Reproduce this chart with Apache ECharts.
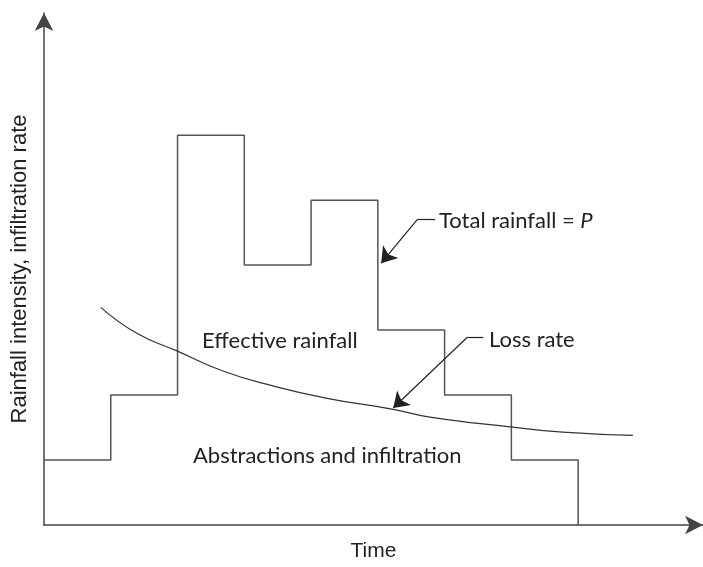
<!DOCTYPE html>
<html>
<head>
<meta charset="utf-8">
<script src="https://cdn.jsdelivr.net/npm/echarts@6/dist/echarts.min.js"></script>
<style>
  html, body { margin: 0; padding: 0; background: #fff; }
  #chart { width: 703px; height: 567px; }
</style>
</head>
<body>
<div id="chart"></div>
<script>
// hyetograph: rainfall intensity per time block (last 0 closes the step to the axis)
var stepTimes = [0, 1, 2, 3, 4, 5, 6, 7, 8];
var rainfall = [1, 2, 6, 4, 5, 3, 2, 1, 0];

// loss rate curve
var lossTimes = [0.85, 1.39, 1.99, 2.68, 3.43, 4.24, 5.23, 5.78, 6.98, 7.77, 8.82];
var lossRate = [3.35, 2.95, 2.68, 2.37, 2.14, 1.95, 1.78, 1.66, 1.51, 1.43, 1.38];

// leader lines for the labels: [text end, knee, arrow tip]
var totalLeader = [[5.86, 4.70], [5.59, 4.70], [5.05, 4.03]];
var lossLeader = [[6.58, 2.89], [6.34, 2.89], [5.23, 1.80]];

function zip(xs, ys) {
    return xs.map(function (x, i) { return [x, ys[i]]; });
}

function leader(pts) {
    return [
        [{ coord: pts[0], symbol: 'none' }, { coord: pts[1], symbol: 'none' }],
        [{ coord: pts[1], symbol: 'none' }, { coord: pts[2], symbol: 'arrow' }]
    ];
}

var textFont = 'Lato, "Noto Sans", sans-serif';
var axisFont = '"Liberation Sans", Arial, sans-serif';

var myChart = echarts.init(document.getElementById('chart'));
var option = {
    animation: false,
    grid: { left: 44, right: 0, top: 13, bottom: 36 },
    xAxis: {
        type: 'value',
        min: 0,
        max: 9.87,
        name: 'Time',
        nameLocation: 'middle',
        nameGap: 16,
        nameTextStyle: { fontFamily: axisFont, fontSize: 21, color: '#222', verticalAlign: 'top' },
        axisLine: { lineStyle: { color: '#444', width: 1.5 }, symbol: ['none', 'arrow'], symbolSize: [14, 18] },
        axisTick: { show: false },
        axisLabel: { show: false },
        splitLine: { show: false }
    },
    yAxis: {
        type: 'value',
        min: 0,
        max: 7.88,
        name: 'Rainfall intensity, infiltration rate',
        nameLocation: 'middle',
        nameGap: 13,
        nameTextStyle: { fontFamily: axisFont, fontSize: 22, color: '#222' },
        axisLine: { lineStyle: { color: '#444', width: 1.5 }, symbol: ['none', 'arrow'], symbolSize: [14, 18] },
        axisTick: { show: false },
        axisLabel: { show: false },
        splitLine: { show: false }
    },
    series: [
        {
            name: 'Total rainfall',
            type: 'line',
            step: 'end',
            data: zip(stepTimes, rainfall),
            showSymbol: false,
            symbol: 'none',
            lineStyle: { color: '#555', width: 1.5 },
            silent: true
        },
        {
            name: 'Loss rate',
            type: 'line',
            smooth: true,
            data: zip(lossTimes, lossRate),
            showSymbol: false,
            symbol: 'none',
            lineStyle: { color: '#333', width: 1.2 },
            silent: true,
            markLine: {
                silent: true,
                symbolSize: 15,
                label: { show: false },
                lineStyle: { type: 'solid', color: '#222', width: 1.2 },
                data: leader(totalLeader).concat(leader(lossLeader))
            }
        }
    ],
    graphic: [
        {
            type: 'text', left: 439, top: 210,
            style: {
                text: '{n|Total rainfall = }{i|P}',
                rich: {
                    n: { fontFamily: textFont, fontSize: 22, fill: '#222' },
                    i: { fontFamily: textFont, fontSize: 22, fontStyle: 'italic', fill: '#222' }
                }
            }
        },
        {
            type: 'text', left: 489, top: 329,
            style: { text: 'Loss rate', font: '22px ' + textFont, fill: '#222' }
        },
        {
            type: 'text', left: 202, top: 330,
            style: { text: 'Effective rainfall', font: '22px ' + textFont, fill: '#222' }
        },
        {
            type: 'text', left: 193, top: 445,
            style: { text: 'Abstractions and infiltration', font: '22px ' + textFont, fill: '#222' }
        }
    ]
};
myChart.setOption(option);
</script>
</body>
</html>
